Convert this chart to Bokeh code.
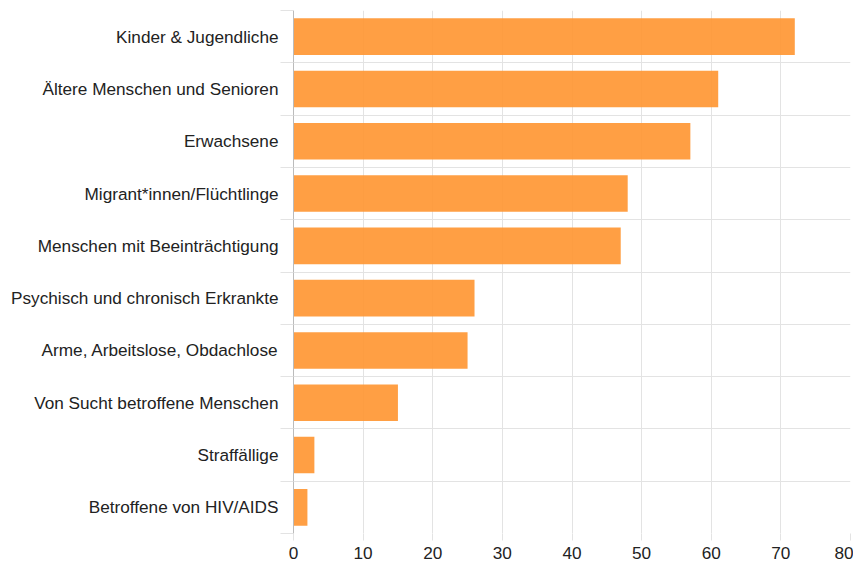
from bokeh.plotting import figure
from bokeh.models import ColumnDataSource, FixedTicker, Range1d, LinearAxis
from bokeh.embed import file_html
from bokeh.resources import INLINE

categories = [
    "Kinder & Jugendliche",
    "Ältere Menschen und Senioren",
    "Erwachsene",
    "Migrant*innen/Flüchtlinge",
    "Menschen mit Beeinträchtigung",
    "Psychisch und chronisch Erkrankte",
    "Arme, Arbeitslose, Obdachlose",
    "Von Sucht betroffene Menschen",
    "Straffällige",
    "Betroffene von HIV/AIDS",
]
values = [72, 61, 57, 48, 47, 26, 25, 15, 3, 2]
x_ticks = [0, 10, 20, 30, 40, 50, 60, 70, 80]

n = len(categories)
ypos = [n - 1 - i for i in range(n)]
bounds = [i - 0.5 for i in range(n + 1)]
src = ColumnDataSource(dict(y=ypos, v=values, cat=categories))

FONT = "Liberation Sans"
GRID = "#e3e3e3"

p = figure(width=853, height=561, output_backend="svg", toolbar_location=None,
           x_range=Range1d(0, 80), y_range=Range1d(-0.5, n - 0.5),
           y_axis_location=None,
           min_border_left=293, min_border_right=3, min_border_top=10,
           min_border_bottom=23)
p.outline_line_color = None

p.hbar(y="y", left=0, right="v", height=0.7, source=src,
       fill_color="#ff9530", fill_alpha=0.9, line_color=None)

# inner y axis: axis line + boundary tick marks, no labels
ax_ticks = LinearAxis(ticker=FixedTicker(ticks=bounds))
ax_ticks.axis_line_color = "#bbbbbb"
ax_ticks.major_tick_line_color = GRID
ax_ticks.major_tick_out = 13
ax_ticks.major_tick_in = 0
ax_ticks.minor_tick_line_color = None
ax_ticks.major_label_text_font_size = "0px"
ax_ticks.major_label_text_color = None
ax_ticks.major_label_standoff = 0
p.add_layout(ax_ticks, "left")

# outer y axis: category labels at band centres
ax_lab = LinearAxis(ticker=FixedTicker(ticks=ypos))
ax_lab.major_label_overrides = {y: c for y, c in zip(ypos, categories)}
ax_lab.axis_line_color = None
ax_lab.major_tick_line_color = None
ax_lab.minor_tick_line_color = None
ax_lab.major_tick_out = 0
ax_lab.major_tick_in = 0
ax_lab.major_label_standoff = 2
ax_lab.major_label_text_font = FONT
ax_lab.major_label_text_font_size = "17.2px"
ax_lab.major_label_text_color = "#222222"
p.add_layout(ax_lab, "left")

p.ygrid.ticker = FixedTicker(ticks=bounds)
p.ygrid.grid_line_color = GRID

# x axis
p.xaxis.ticker = FixedTicker(ticks=x_ticks)
p.xaxis.axis_line_color = None
p.xaxis.major_tick_line_color = GRID
p.xaxis.major_tick_out = 7
p.xaxis.major_tick_in = 0
p.xaxis.minor_tick_line_color = None
p.xaxis.major_label_standoff = 6
p.xaxis.major_label_text_font = FONT
p.xaxis.major_label_text_font_size = "17.2px"
p.xaxis.major_label_text_color = "#222222"
p.xgrid.ticker = FixedTicker(ticks=x_ticks)
p.xgrid.grid_line_color = GRID

open("out.html", "w").write(file_html(p, INLINE))
